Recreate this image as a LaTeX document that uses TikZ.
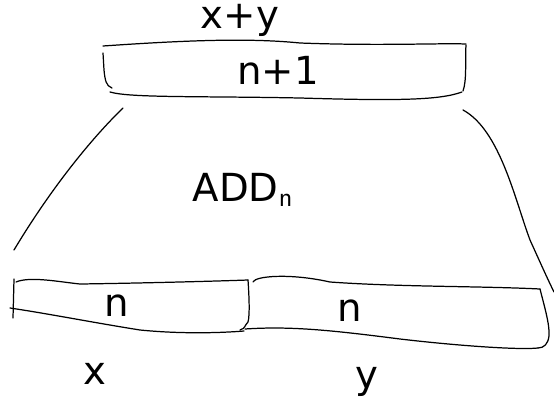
\documentclass[tikz,border=0pt]{standalone}
\usepackage{fontspec}
\setmainfont{DejaVu Sans}[Scale=1]
\begin{document}
\begin{tikzpicture}[x=0.02cm,y=-0.02cm,
  ink/.style={line width=0.7pt,line cap=round,line join=round},
  lbl/.style={font=\fontsize{22}{24}\selectfont, inner sep=0pt}]
\useasboundingbox (0,0) rectangle (554,419);
% top box
\draw[ink] (103,46) .. controls (190,40) and (250,38) .. (300,43) .. controls (380,46) and (440,43) .. (466,44);
\draw[ink] (103,53) -- (104,70) .. controls (105,80) and (106,86) .. (112,88);
\draw[ink] (110,92) .. controls (130,98) and (200,96) .. (300,98) .. controls (400,101) and (440,100) .. (462,92);
\draw[ink] (466,45) .. controls (465,60) and (467,80) .. (463,91);
% trapezoid sides
\draw[ink] (123,108) .. controls (90,140) and (50,190) .. (14,250);
\draw[ink] (463,110) .. controls (500,130) and (515,200) .. (530,240) .. controls (540,262) and (548,280) .. (554,292);
% bottom left box
\draw[ink] (14,279) -- (13,318);
\draw[ink] (16,282) .. controls (30,276) and (60,282) .. (80,284) .. controls (150,283) and (220,281) .. (248,280);
\draw[ink] (10,308) .. controls (50,314) and (90,322) .. (140,330) .. controls (180,334) and (220,333) .. (244,331);
\draw[ink] (248,280) .. controls (249,295) and (250,315) .. (248,322) .. controls (244,326) and (246,328) .. (240,330);
% bottom right box
\draw[ink] (253,282) .. controls (255,276) and (290,273) .. (330,282) .. controls (400,287) and (480,286) .. (540,289);
\draw[ink] (245,329) .. controls (290,326) and (330,330) .. (400,339) .. controls (460,346) and (520,350) .. (538,348);
\draw[ink] (540,289) .. controls (544,305) and (550,325) .. (549,336) .. controls (548,344) and (544,348) .. (538,348);
% labels
\node[lbl] (xy) at (240,20) {x+y};
\node[lbl] (np1) at (278,70) {n+1};
\node[lbl] (add) at (243,190) {ADD$_{\mathsf{n}}$};
\node[lbl] (n1) at (117,306) {n};
\node[lbl] (n2) at (350,311) {n};
\node[lbl] (x) at (95,374) {x};
\node[lbl] (y) at (367,382) {y};
\end{tikzpicture}
\end{document}
